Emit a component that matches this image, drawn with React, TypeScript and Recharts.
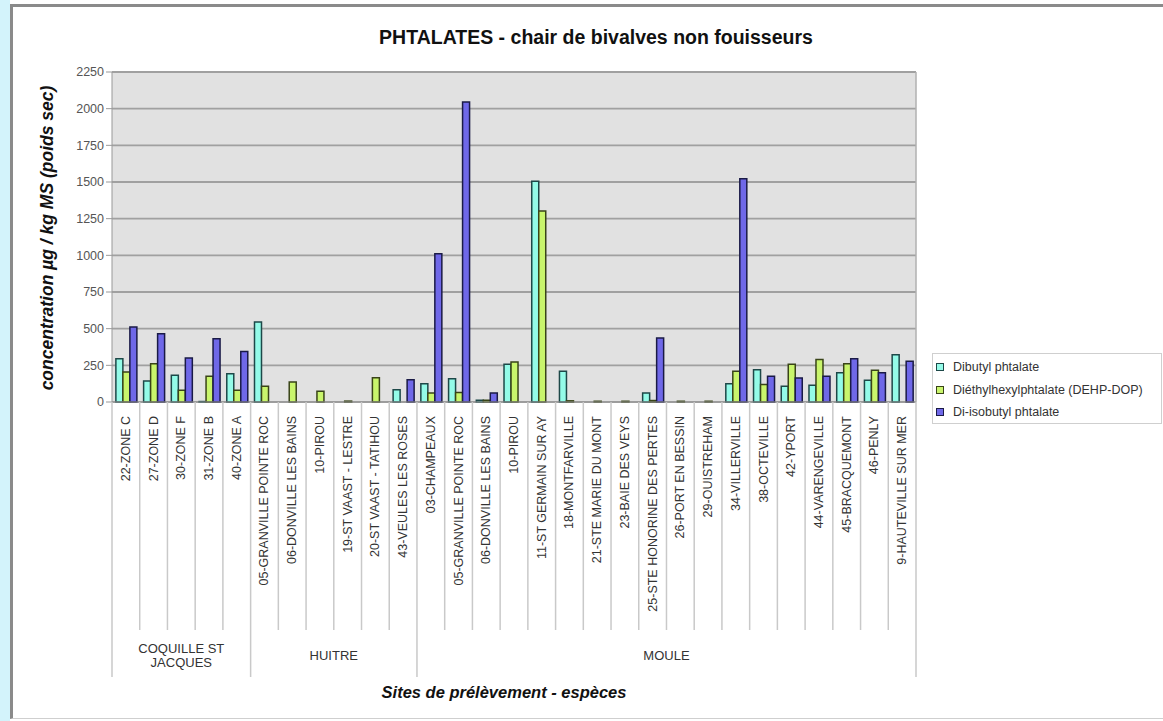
import { BarChart, Bar, XAxis, YAxis, CartesianGrid } from "recharts";

// sites de prélèvement, dans l'ordre de l'axe
const SITES = [
  "22-ZONE C", "27-ZONE D", "30-ZONE F", "31-ZONE B", "40-ZONE A",
  "05-GRANVILLE POINTE ROC", "06-DONVILLE LES BAINS", "10-PIROU", "19-ST VAAST - LESTRE",
  "20-ST VAAST - TATIHOU", "43-VEULES LES ROSES",
  "03-CHAMPEAUX", "05-GRANVILLE POINTE ROC", "06-DONVILLE LES BAINS", "10-PIROU",
  "11-ST GERMAIN SUR AY", "18-MONTFARVILLE", "21-STE MARIE DU MONT", "23-BAIE DES VEYS",
  "25-STE HONORINE DES PERTES", "26-PORT EN BESSIN", "29-OUISTREHAM", "34-VILLERVILLE",
  "38-OCTEVILLE", "42-YPORT", "44-VARENGEVILLE", "45-BRACQUEMONT", "46-PENLY",
  "9-HAUTEVILLE SUR MER",
];
const GROUP_NAMES = [["COQUILLE ST", "JACQUES"], ["HUITRE"], ["MOULE"]];
const GROUP_SIZES = [5, 6, 18];

const DIBUTYL = [295, 143, 182, 3, 193, 545, 0, 0, 0, 0, 84, 125, 159, 12, 257, 1505, 209, 0, 0, 61, 0, 0, 125, 220, 107, 114, 200, 148, 323];
const DEHP = [205, 261, 80, 175, 80, 107, 136, 73, 6, 166, 0, 61, 64, 12, 273, 1302, 8, 5, 5, 10, 5, 5, 209, 120, 257, 289, 261, 216, 0];
const DIISOBUTYL = [511, 466, 300, 432, 345, 0, 0, 0, 0, 0, 152, 1011, 2046, 61, 0, 0, 0, 0, 0, 436, 0, 0, 1523, 175, 164, 175, 295, 200, 277];

const Y_TICKS = [0, 250, 500, 750, 1000, 1250, 1500, 1750, 2000, 2250];

const SERIES = [
  { key: "dibutyl", name: "Dibutyl phtalate", fill: "#94fbe8", stroke: "#1d4848" },
  { key: "dehp", name: "Diéthylhexylphtalate (DEHP-DOP)", fill: "#c9f56c", stroke: "#394418" },
  { key: "diiso", name: "Di-isobutyl phtalate", fill: "#6f68e8", stroke: "#1a1a46" },
];

const data = SITES.map((site, i) => ({
  key: i + "|" + site,
  dibutyl: DIBUTYL[i],
  dehp: DEHP[i],
  diiso: DIISOBUTYL[i],
}));

const FONT = "'Liberation Sans', Arial, sans-serif";
const W = 1163;
const H = 721;
const PLOT_LEFT = 112;
const PLOT_RIGHT = 916;
const PLOT_TOP = 72;
const PLOT_BOTTOM = 402;
const STEP = (PLOT_RIGHT - PLOT_LEFT) / SITES.length;
const SHORT_LINE = 630;
const LONG_LINE = 677;

const groupStarts: number[] = [];
GROUP_SIZES.reduce((acc, n) => {
  groupStarts.push(acc);
  return acc + n;
}, 0);

function SiteTick(props: any) {
  const { x, index } = props;
  const ty = PLOT_BOTTOM + 14;
  const g = groupStarts.indexOf(index);
  const last = index === SITES.length - 1;
  const lineColor = "#c9c9c9";
  return (
    <g>
      <text
        x={x}
        y={ty}
        transform={`rotate(-90, ${x}, ${ty})`}
        textAnchor="end"
        dominantBaseline="central"
        fontSize={12.5}
        fill="#333"
        fontFamily={FONT}
      >
        {SITES[index]}
      </text>
      {g >= 0 && (
        <>
          <line x1={x - STEP / 2} x2={x - STEP / 2} y1={PLOT_BOTTOM} y2={LONG_LINE} stroke={lineColor} strokeWidth={1.5} />
          <text
            x={x - STEP / 2 + (GROUP_SIZES[g] * STEP) / 2}
            y={655 - (GROUP_NAMES[g].length - 1) * 7}
            textAnchor="middle"
            dominantBaseline="central"
            fontSize={13}
            fill="#333"
            fontFamily={FONT}
          >
            {GROUP_NAMES[g].map((t, k) => (
              <tspan key={k} x={x - STEP / 2 + (GROUP_SIZES[g] * STEP) / 2} dy={k === 0 ? 0 : 14}>
                {t}
              </tspan>
            ))}
          </text>
        </>
      )}
      {!last && !groupStarts.includes(index + 1) && (
        <line x1={x + STEP / 2} x2={x + STEP / 2} y1={PLOT_BOTTOM} y2={SHORT_LINE} stroke={lineColor} strokeWidth={1.5} />
      )}
      {last && (
        <>
          <line x1={x + STEP / 2} x2={x + STEP / 2} y1={PLOT_BOTTOM} y2={LONG_LINE} stroke={lineColor} strokeWidth={1.5} />
          <line x1={x + STEP / 2} x2={x + STEP / 2} y1={PLOT_TOP} y2={PLOT_BOTTOM} stroke="#b0b0b0" strokeWidth={1.5} />
        </>
      )}
    </g>
  );
}

export default function App() {
  return (
    <div style={{ position: "absolute", left: 0, top: 0, width: W, height: H, background: "#fff", overflow: "hidden", fontFamily: FONT }}>
      <div style={{ position: "absolute", left: 0, top: 0, width: 10, height: H, background: "#d3f3fb" }} />
      <div
        style={{
          position: "absolute",
          left: 10,
          top: 4,
          width: W - 10,
          height: H - 6,
          borderLeft: "3px solid #8a8a8a",
          borderTop: "3px solid #8a8a8a",
          borderBottom: "1px solid #cfcfcf",
          boxSizing: "border-box",
        }}
      />
      <div
        style={{
          position: "absolute",
          left: 596,
          top: 37,
          transform: "translate(-50%, -50%)",
          whiteSpace: "nowrap",
          fontSize: 19.5,
          fontWeight: "bold",
          color: "#111",
        }}
      >
        PHTALATES - chair de bivalves non fouisseurs
      </div>
      <div
        style={{
          position: "absolute",
          left: 47,
          top: 238,
          transform: "translate(-50%, -50%) rotate(-90deg)",
          whiteSpace: "nowrap",
          fontSize: 17.5,
          fontWeight: "bold",
          fontStyle: "italic",
          color: "#111",
        }}
      >
        concentration µg / kg MS (poids sec)
      </div>
      <div
        style={{
          position: "absolute",
          left: 504,
          top: 692,
          transform: "translate(-50%, -50%)",
          whiteSpace: "nowrap",
          fontSize: 16.5,
          fontWeight: "bold",
          fontStyle: "italic",
          color: "#111",
        }}
      >
        Sites de prélèvement - espèces
      </div>
      <div
        style={{
          position: "absolute",
          left: 932,
          top: 353,
          width: 230,
          height: 71,
          border: "1px solid #cfcfcf",
          boxSizing: "border-box",
          paddingTop: 2,
        }}
      >
        {SERIES.map((s) => (
          <div key={s.key} style={{ display: "flex", alignItems: "center", height: 22.5, fontSize: 12.5, color: "#333" }}>
            <span
              style={{
                display: "inline-block",
                width: 6,
                height: 6,
                marginLeft: 3,
                marginRight: 9,
                background: s.fill,
                border: "1.5px solid " + s.stroke,
              }}
            />
            {s.name}
          </div>
        ))}
      </div>
      <div style={{ position: "absolute", left: 0, top: 0 }}>
        <BarChart
          width={W}
          height={H}
          data={data}
          margin={{ top: PLOT_TOP, right: W - PLOT_RIGHT, left: 62, bottom: H - PLOT_BOTTOM - 300 }}
          barCategoryGap="14%"
          barGap={0}
        >
          <CartesianGrid vertical={false} fill="#e1e1e1" stroke="#a0a0a0" strokeWidth={1.8} />
          <XAxis
            dataKey="key"
            interval={0}
            height={300}
            tick={<SiteTick />}
            tickLine={false}
            axisLine={{ stroke: "#999" }}
          />
          <YAxis
            width={50}
            domain={[0, 2250]}
            ticks={Y_TICKS}
            interval={0}
            tick={{ fontSize: 12.5, fill: "#555", fontFamily: FONT }}
            tickLine={{ stroke: "#999" }}
            axisLine={{ stroke: "#999" }}
          />
          {SERIES.map((s) => (
            <Bar
              key={s.key}
              dataKey={s.key}
              name={s.name}
              fill={s.fill}
              stroke={s.stroke}
              strokeWidth={1.5}
              isAnimationActive={false}
            />
          ))}
        </BarChart>
      </div>
    </div>
  );
}
